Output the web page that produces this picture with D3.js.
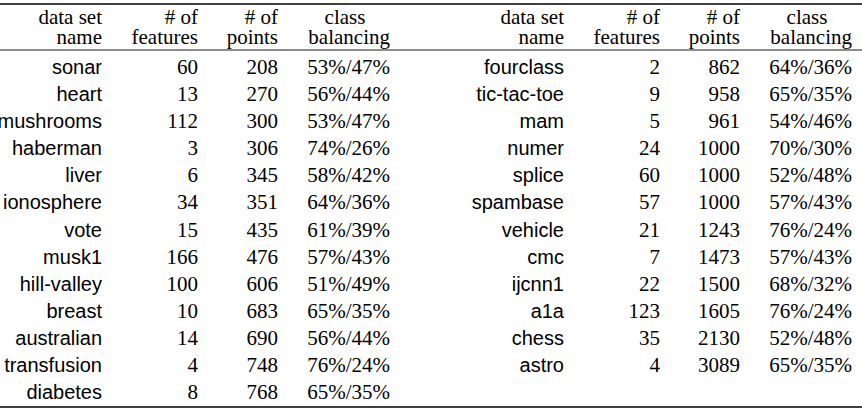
<!DOCTYPE html><html><head><meta charset="utf-8"><script src="https://cdn.jsdelivr.net/npm/d3@7"></script>
<style>body{margin:0;background:#fff}</style></head><body><svg id="c" width="862" height="410"></svg><script>
const names=["sonar","heart","mushrooms","haberman","liver","ionosphere","vote","musk1","hill-valley","breast","australian","transfusion","diabetes","fourclass","tic-tac-toe","mam","numer","splice","spambase","vehicle","cmc","ijcnn1","a1a","chess","astro"];
const features=[60,13,112,3,6,34,15,166,100,10,14,4,8,2,9,5,24,60,57,21,7,22,123,35,4];
const points=[208,270,300,306,345,351,435,476,606,683,690,748,768,862,958,961,1000,1000,1000,1243,1473,1500,1605,2130,3089];
const balancing=["53%/47%","56%/44%","53%/47%","74%/26%","58%/42%","64%/36%","61%/39%","57%/43%","51%/49%","65%/35%","56%/44%","76%/24%","65%/35%","64%/36%","65%/35%","54%/46%","70%/30%","52%/48%","57%/43%","76%/24%","57%/43%","68%/32%","76%/24%","52%/48%","65%/35%"];
const headers=[["data set","name"],["# of","features"],["# of","points"],["class","balancing"]];
const svg=d3.select("#c");
const colX=[102,198,278,390], half=462;
const y=d3.scaleLinear().domain([0,12]).range([67,392]);
const serif="Liberation Serif, serif", sans="Liberation Sans, Arial, sans-serif";
[[0,4,1.5],[0,50,0.9],[0,407,1.5]].forEach(([x,yy,w])=>svg.append("line").attr("x1",0).attr("x2",862).attr("y1",yy).attr("y2",yy).attr("stroke","#000").attr("stroke-width",w));
[0,1].forEach(h=>{headers.forEach((hd,j)=>{const x=colX[j]+h*half;
 svg.append("text").attr("x",j==3?x-45:x).attr("y",24).attr("text-anchor",j==3?"middle":"end").attr("font-family",serif).attr("font-size",21).text(hd[0]);
 svg.append("text").attr("x",x).attr("y",44).attr("text-anchor","end").attr("font-family",serif).attr("font-size",21).text(hd[1]);});});
names.forEach((n,i)=>{const h=i<13?0:1, r=i<13?i:i-13, yy=y(r)+7, o=h*half;
 const g=svg.append("g").attr("font-size",21).attr("text-anchor","end");
 g.append("text").attr("x",colX[0]+o).attr("y",yy).attr("font-family",sans).attr("font-size",20).text(n);
 g.append("text").attr("x",colX[1]+o).attr("y",yy).attr("font-family",serif).text(features[i]);
 g.append("text").attr("x",colX[2]+o).attr("y",yy).attr("font-family",serif).text(points[i]);
 g.append("text").attr("x",colX[3]+o).attr("y",yy).attr("font-family",serif).text(balancing[i]);});
</script></body></html>
